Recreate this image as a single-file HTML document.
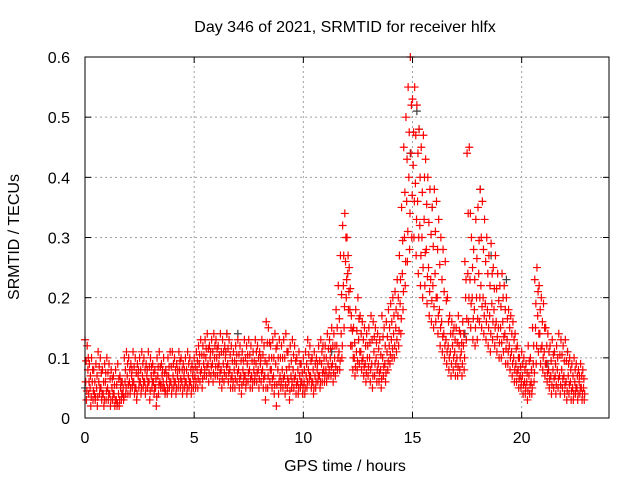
<!DOCTYPE html>
<html><head><meta charset="utf-8"><style>
html,body{margin:0;padding:0;background:#fff}
svg{display:block;font-family:"Liberation Sans",sans-serif}
</style></head><body>
<svg id="chart" width="640" height="480" viewBox="0 0 640 480" xmlns="http://www.w3.org/2000/svg">
<text x="345" y="32" font-size="16" text-anchor="middle">Day 346 of 2021, SRMTID for receiver hlfx</text>
<text x="345" y="471" font-size="16" text-anchor="middle">GPS time / hours</text>
<text x="19" y="237" font-size="16" text-anchor="middle" transform="rotate(-90 19 237)">SRMTID / TECUs</text>
<g id="grid"></g>
<g id="ticks"></g>
<g id="black"></g>
<g id="red"></g>
<rect x="85" y="57" width="524" height="361" fill="none" stroke="#000" stroke-width="1"/>
</svg>
<script>
const xTicks=[0,5,10,15,20];
const yTicks=[0,0.1,0.2,0.3,0.4,0.5,0.6];
const yTickLabels=["0","0.1","0.2","0.3","0.4","0.5","0.6"];
const t0=0, dt=0.1;
const redHi=[.13,.12,.09,.10,.08,.09,.11,.10,.08,.09,
.10,.09,.08,.07,.08,.09,.07,.06,.10,.11,
.10,.09,.11,.10,.09,.10,.11,.10,.09,.11,
.10,.09,.08,.10,.11,.09,.10,.08,.10,.11,
.11,.10,.09,.11,.10,.09,.10,.11,.10,.09,
.10,.11,.12,.13,.12,.13,.14,.12,.13,.14,
.13,.12,.14,.13,.12,.14,.13,.12,.11,.12,
.13,.12,.11,.13,.12,.13,.12,.11,.13,.12,
.11,.13,.12,.16,.15,.12,.13,.14,.12,.13,
.12,.13,.14,.11,.12,.13,.12,.10,.11,.09,
.10,.11,.13,.12,.10,.11,.10,.12,.13,.12,
.12,.14,.13,.15,.14,.18,.22,.27,.32,.34,
.30,.25,.17,.15,.18,.20,.17,.16,.15,.14,
.15,.17,.16,.15,.14,.13,.17,.15,.16,.18,
.19,.20,.21,.23,.27,.35,.45,.50,.55,.60,
.53,.55,.52,.48,.45,.47,.43,.40,.38,.35,
.38,.36,.33,.30,.28,.26,.20,.17,.16,.15,
.15,.17,.14,.16,.26,.44,.45,.30,.28,.33,
.35,.38,.36,.33,.30,.27,.29,.25,.27,.24,
.22,.24,.22,.20,.18,.17,.16,.14,.12,.10,
.11,.10,.09,.12,.10,.15,.23,.25,.22,.20,
.19,.15,.14,.12,.13,.11,.12,.14,.13,.12,
.13,.11,.10,.09,.10,.09,.08,.09,.08];
const redMid=[.06,.08,.05,.06,.04,.05,.06,.05,.04,.06,
.05,.04,.05,.04,.03,.04,.05,.04,.06,.07,
.06,.07,.06,.05,.07,.06,.07,.06,.07,.06,
.07,.06,.05,.07,.06,.07,.05,.06,.07,.06,
.07,.06,.07,.08,.06,.07,.06,.07,.06,.07,
.07,.08,.09,.08,.09,.10,.09,.10,.09,.10,
.10,.09,.08,.09,.10,.09,.08,.07,.08,.09,
.08,.07,.08,.07,.09,.08,.07,.08,.09,.08,
.09,.08,.07,.09,.10,.08,.07,.09,.08,.07,
.08,.07,.08,.06,.07,.08,.07,.06,.07,.06,
.06,.07,.08,.07,.06,.07,.08,.07,.09,.08,
.08,.09,.10,.09,.10,.12,.11,.14,.22,.26,
.24,.18,.12,.10,.11,.13,.11,.10,.09,.10,
.10,.09,.11,.10,.09,.08,.10,.09,.11,.12,
.13,.14,.15,.17,.19,.24,.30,.36,.40,.44,
.42,.39,.36,.32,.30,.33,.28,.25,.23,.22,
.24,.20,.18,.16,.14,.13,.12,.11,.12,.11,
.10,.12,.11,.12,.20,.24,.23,.20,.18,.20,
.24,.22,.20,.19,.18,.17,.19,.18,.16,.15,
.15,.16,.14,.13,.12,.11,.10,.09,.08,.07,
.07,.06,.06,.07,.06,.09,.15,.17,.14,.12,
.11,.09,.08,.07,.08,.07,.08,.07,.08,.07,
.06,.07,.06,.05,.06,.05,.06,.05,.05];
const redLo=[.03,.04,.02,.03,.03,.02,.04,.03,.02,.03,
.03,.02,.03,.02,.02,.02,.03,.03,.04,.04,
.04,.05,.04,.03,.05,.04,.05,.04,.05,.03,
.05,.04,.02,.04,.05,.05,.04,.04,.05,.04,
.05,.04,.05,.05,.04,.05,.04,.05,.04,.05,
.05,.05,.06,.05,.07,.07,.06,.07,.06,.07,
.07,.06,.05,.06,.07,.06,.05,.05,.05,.06,
.05,.04,.06,.05,.06,.05,.05,.06,.06,.05,
.06,.05,.03,.05,.06,.05,.04,.02,.04,.05,
.05,.04,.05,.03,.05,.05,.04,.04,.05,.04,
.04,.05,.06,.05,.04,.05,.06,.05,.06,.06,
.06,.07,.07,.06,.07,.08,.08,.10,.15,.20,
.18,.12,.08,.07,.08,.09,.08,.07,.06,.07,
.06,.05,.07,.06,.06,.05,.07,.06,.08,.09,
.10,.10,.11,.12,.14,.18,.22,.26,.28,.30,
.30,.27,.24,.22,.20,.22,.19,.17,.16,.15,
.16,.14,.12,.11,.10,.09,.08,.07,.08,.07,
.07,.08,.07,.08,.13,.16,.15,.13,.12,.13,
.16,.15,.14,.13,.12,.11,.13,.12,.11,.10,
.10,.11,.09,.09,.08,.07,.06,.06,.05,.05,
.04,.04,.03,.04,.04,.06,.09,.11,.09,.08,
.07,.06,.05,.04,.05,.04,.05,.04,.05,.04,
.03,.04,.03,.03,.04,.03,.04,.03,.03];
const blackTimes=[0.0,6.5,7.0,11.3,14.9,15.2,15.3,15.9,17.4,18.1,18.6,19.3,21.2,22.1];
const blackValues=[0.05,0.14,0.14,0.11,0.44,0.51,0.48,0.35,0.14,0.38,0.27,0.23,0.09,0.11];

const X0=85,X1=609,Y0=418,Y1=57,XMAX=24,YMAX=0.6;
const xs=v=>X0+(X1-X0)*v/XMAX;
const ys=v=>Y0-(Y0-Y1)*v/YMAX;
const NS="http://www.w3.org/2000/svg";
function mk(tag,attrs,parent){const e=document.createElementNS(NS,tag);for(const k in attrs)e.setAttribute(k,attrs[k]);parent.appendChild(e);return e;}
const grid=document.getElementById('grid'),ticks=document.getElementById('ticks');
xTicks.forEach(v=>{const x=xs(v);
 if(v>0){const g=mk('line',{x1:x,x2:x,y1:Y0,y2:Y1,stroke:'#a0a0a0','stroke-dasharray':'2,3'},grid);
 
 }
 mk('line',{x1:x,x2:x,y1:Y0,y2:Y0-6,stroke:'#000'},ticks);
 mk('line',{x1:x,x2:x,y1:Y1,y2:Y1+6,stroke:'#000'},ticks);
 const t=mk('text',{x:x,y:443,'font-size':16,'text-anchor':'middle'},ticks);t.textContent=v;
 
 
});
yTicks.forEach((v,i)=>{const y=ys(v);
 if(v>0&&v<0.6){const g=mk('line',{x1:X0,x2:X1,y1:y,y2:y,stroke:'#a0a0a0','stroke-dasharray':'2,3'},grid);
 
 }
 mk('line',{x1:X0,x2:X0+6,y1:y,y2:y,stroke:'#000'},ticks);
 mk('line',{x1:X1,x2:X1-6,y1:y,y2:y,stroke:'#000'},ticks);
 const t=mk('text',{x:70,y:y+6,'font-size':16,'text-anchor':'end'},ticks);t.textContent=yTickLabels[i];
 
 
});
function plus(parent,t,v,color,name){
 const x=xs(t),y=ys(v);
 const p=mk('path',{d:`M${x-4} ${y}H${x+4}M${x} ${y-4}V${y+4}`,stroke:color,'stroke-width':1.2,fill:'none'},parent);
 
 
}
const bg=document.getElementById('black'),rg=document.getElementById('red');
blackTimes.forEach((t,i)=>plus(bg,t,blackValues[i],'#404040','black-point'));
[[redHi,0],[redMid,0.033],[redLo,0.066]].forEach(([arr,off])=>{
 arr.forEach((v,i)=>plus(rg,t0+i*dt+off,v,'#ff0000','red-point'));
});
redHi.forEach((v,i)=>plus(rg,t0+i*dt+0.05,(v+redMid[i])/2,'#ff0000','red-point'));
redMid.forEach((v,i)=>plus(rg,t0+i*dt+0.085,(v+redLo[i])/2,'#ff0000','red-point'));
</script>
</body></html>
